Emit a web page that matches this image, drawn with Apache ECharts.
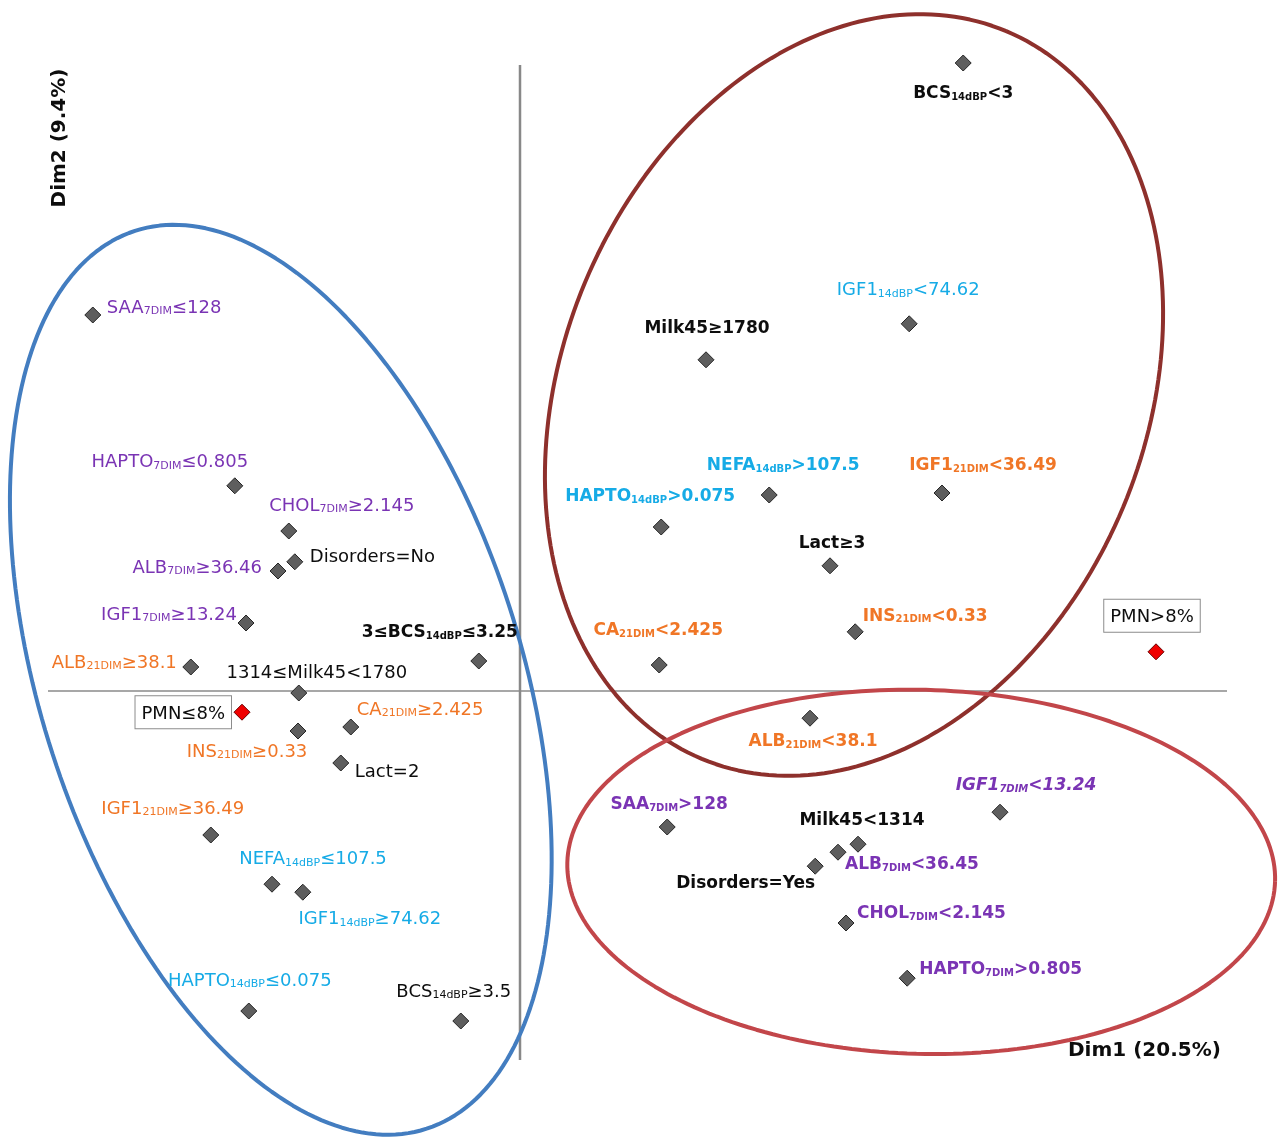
<!DOCTYPE html>
<html>
<head>
<meta charset="utf-8">
<title>MCA biplot – Dim1 vs Dim2</title>
<script src="https://cdn.jsdelivr.net/npm/echarts@6/dist/echarts.min.js"></script>
<style>
  html, body { margin: 0; padding: 0; background: #ffffff; }
  #chart { width: 1283px; height: 1137px; }
</style>
</head>
<body>
<div id="chart"></div>
<script>
// Category levels of the MCA; text inside _{...} is written as a subscript.
const levels = [
  'SAA_{7DIM}≤128', 'HAPTO_{7DIM}≤0.805', 'CHOL_{7DIM}≥2.145', 'Disorders=No',
  'ALB_{7DIM}≥36.46', 'IGF1_{7DIM}≥13.24', 'ALB_{21DIM}≥38.1', '3≤BCS_{14dBP}≤3.25',
  '1314≤Milk45<1780', 'PMN≤8%', 'INS_{21DIM}≥0.33', 'CA_{21DIM}≥2.425',
  'Lact=2', 'IGF1_{21DIM}≥36.49', 'NEFA_{14dBP}≤107.5', 'IGF1_{14dBP}≥74.62',
  'HAPTO_{14dBP}≤0.075', 'BCS_{14dBP}≥3.5',
  'BCS_{14dBP}<3', 'IGF1_{14dBP}<74.62', 'Milk45≥1780', 'NEFA_{14dBP}>107.5',
  'IGF1_{21DIM}<36.49', 'HAPTO_{14dBP}>0.075', 'Lact≥3', 'INS_{21DIM}<0.33',
  'CA_{21DIM}<2.425', 'PMN>8%', 'ALB_{21DIM}<38.1',
  'SAA_{7DIM}>128', 'IGF1_{7DIM}<13.24', 'Milk45<1314', 'ALB_{7DIM}<36.45',
  'Disorders=Yes', 'CHOL_{7DIM}<2.145', 'HAPTO_{7DIM}>0.805'
];

// Coordinates of each level on the first two dimensions.
const dim1 = [
  -1.068, -0.713, -0.578, -0.563, -0.605, -0.685, -0.823, -0.103,
  -0.553, -0.695, -0.555, -0.423, -0.448, -0.773, -0.620, -0.543,
  -0.678, -0.148,
   1.108,  0.973,  0.465,  0.623,  1.055,  0.353,  0.775,  0.838,
   0.348,  1.590,  0.725,
   0.368,  1.200,  0.845,  0.795,  0.738,  0.815,  0.968
];
const dim2 = [
   0.940,  0.513,  0.400,  0.323,  0.300,  0.170,  0.060,  0.075,
  -0.005, -0.053, -0.100, -0.090, -0.180, -0.360, -0.483, -0.503,
  -0.800, -0.825,
   1.570,  0.918,  0.828,  0.490,  0.495,  0.410,  0.313,  0.148,
   0.065,  0.098, -0.068,
  -0.340, -0.303, -0.383, -0.403, -0.438, -0.580, -0.718
];

// Supplementary (illustrative) levels drawn in red.
const supplementary = ['PMN≤8%', 'PMN>8%'];

// Axis titles with the share of inertia of each dimension.
const dimTitles = ['Dim1 (20.5%)', 'Dim2 (9.4%)'];

// Groupings drawn as ellipses: centre, semi-axes and tilt (degrees) in plot units.
const groupEllipses = [
  { cx: -0.598, cy:  0.028, rx: 1.180, ry: 0.600, angle: -72.0, color: '#437DC0' },
  { cx:  0.835, cy:  0.740, rx: 0.986, ry: 0.729, angle:  67.3, color: '#8E302C' },
  { cx:  1.003, cy: -0.452, rx: 0.885, ry: 0.455, angle:  -1.5, color: '#C2464A' }
];

// Label placement per level: [dx, dy, align, weight] (0 normal, 1 bold, 2 bold italic).
const labelPlacement = [
  [14, -9, 'left', 0], [-65, -25, 'center', 0], [53, -27, 'center', 0], [15, -6, 'left', 0],
  [-16, -5, 'right', 0], [-9, -10, 'right', 0], [-14, -6, 'right', 0], [-39, -31, 'center', 1],
  [18, -22, 'center', 0], [-11, 0, 'right', 0], [-51, 19, 'center', 0], [6, -19, 'left', 0],
  [14, 7, 'left', 0], [-38, -28, 'center', 0], [41, -27, 'center', 0], [67, 25, 'center', 0],
  [1, -32, 'center', 0], [-7, -31, 'center', 0],
  [0, 28, 'center', 1], [-1, -35, 'center', 0], [1, -34, 'center', 1], [14, -32, 'center', 1],
  [41, -30, 'center', 1], [-11, -33, 'center', 1], [2, -25, 'center', 1], [70, -18, 'center', 1],
  [-1, -37, 'center', 1], [-4, -36, 'center', 0], [3, 21, 'center', 1],
  [2, -25, 'center', 1], [26, -29, 'center', 2], [4, -26, 'center', 1], [7, 10, 'left', 1],
  [0, 15, 'right', 1], [11, -12, 'left', 1], [12, -11, 'left', 1]
];

const FONT = 'DejaVu Sans';
const subColors = { '7DIM': '#7A34B4', '21DIM': '#F07626', '14dBP': '#16ABE6' };

function levelColor(name) {
  const m = name.match(/_\{(.*?)\}/);
  if (!m || name.indexOf('BCS') >= 0) return '#0d0d0d';
  return subColors[m[1]];
}

function richFormatter(name) {
  const m = name.match(/^(.*?)_\{(.*?)\}(.*)$/);
  if (!m) return '{m|' + name + '}';
  let s = '';
  if (m[1]) s += '{m|' + m[1] + '}';
  s += '{s|' + m[2] + '}';
  if (m[3]) s += '{m|' + m[3] + '}';
  return s;
}

const points = levels.map(function (name, i) {
  const p = labelPlacement[i];
  const isSup = supplementary.indexOf(name) >= 0;
  const color = levelColor(name);
  const bold = p[3] >= 1;
  const italic = p[3] === 2;
  const mainSize = isSup ? 18 : (bold ? 17 : 18);
  const common = { textBorderWidth: 0, textBorderColor: 'transparent', textShadowBlur: 0 };
  const label = Object.assign({
    show: true,
    position: 'inside',
    offset: [p[0], p[1]],
    align: p[2],
    verticalAlign: 'middle',
    color: color,
    opacity: 1,
    formatter: richFormatter(name),
    rich: {
      m: Object.assign({
        fontFamily: FONT, fontSize: mainSize, color: color,
        fontWeight: bold ? 'bold' : 'normal', fontStyle: italic ? 'italic' : 'normal',
        lineHeight: 22, verticalAlign: 'bottom'
      }, common),
      s: Object.assign({
        fontFamily: FONT, fontSize: bold ? 10 : 11, color: color,
        fontWeight: bold ? 'bold' : 'normal', fontStyle: italic ? 'italic' : 'normal',
        lineHeight: 13, verticalAlign: 'bottom'
      }, common)
    }
  }, common);
  if (isSup) {
    Object.assign(label, {
      backgroundColor: '#ffffff', borderColor: '#8c8c8c', borderWidth: 1,
      padding: [5, 6, 5, 6]
    });
  }
  return {
    name: name,
    value: [dim1[i], dim2[i]],
    itemStyle: isSup
      ? { color: '#F00000', borderColor: '#6a0000', borderWidth: 1, opacity: 1 }
      : { color: '#5E5E5E', borderColor: '#262626', borderWidth: 1, opacity: 1 },
    label: label
  };
});

function ellipsePath(e) {
  const out = [];
  const phi = e.angle * Math.PI / 180;
  const n = 240;
  for (let k = 0; k <= n; k++) {
    const t = 2 * Math.PI * k / n;
    const ux = e.rx * Math.cos(t), uy = e.ry * Math.sin(t);
    out.push([e.cx + ux * Math.cos(phi) - uy * Math.sin(phi),
              e.cy + ux * Math.sin(phi) + uy * Math.cos(phi)]);
  }
  return out;
}

const ellipseSeries = groupEllipses.map(function (e) {
  return {
    type: 'line', data: ellipsePath(e), showSymbol: false, symbol: 'none',
    smooth: false, clip: false, silent: true, z: 2,
    lineStyle: { color: e.color, width: 4 }
  };
});

const chart = echarts.init(document.getElementById('chart'), null, { renderer: 'canvas' });
chart.setOption({
  backgroundColor: '#ffffff',
  animation: false,
  grid: { left: 0, top: 11, width: 1280, height: 1120 },
  xAxis: { type: 'value', min: -1.3, max: 1.9, show: false },
  yAxis: { type: 'value', min: -1.1, max: 1.7, show: false },
  series: [
    {
      // horizontal reference line (Dim2 = 0)
      type: 'line', data: [[-1.18, 0], [1.7675, 0]], symbol: 'none', silent: true,
      clip: false, z: 1, lineStyle: { color: '#8a8a8a', width: 1.5 }
    },
    {
      // vertical reference line (Dim1 = 0)
      type: 'line', data: [[0, 1.565], [0, -0.9225]], symbol: 'none', silent: true,
      clip: false, z: 1, lineStyle: { color: '#888888', width: 2.5 }
    }
  ].concat(ellipseSeries).concat([
    {
      type: 'scatter', symbol: 'diamond', symbolSize: 16, z: 5,
      clip: false, silent: true,
      itemStyle: { opacity: 1 },
      data: points
    }
  ]),
  graphic: [
    {
      type: 'text', left: 1068, top: 1041, z: 10,
      style: { text: dimTitles[0], fontFamily: FONT, fontSize: 20, fontWeight: 'bold', fill: '#0d0d0d' }
    },
    {
      type: 'text', x: 60, y: 138, rotation: Math.PI / 2, z: 10,
      style: {
        text: dimTitles[1], fontFamily: FONT, fontSize: 20, fontWeight: 'bold', fill: '#0d0d0d',
        align: 'center', verticalAlign: 'middle'
      }
    }
  ]
});
</script>
</body>
</html>
